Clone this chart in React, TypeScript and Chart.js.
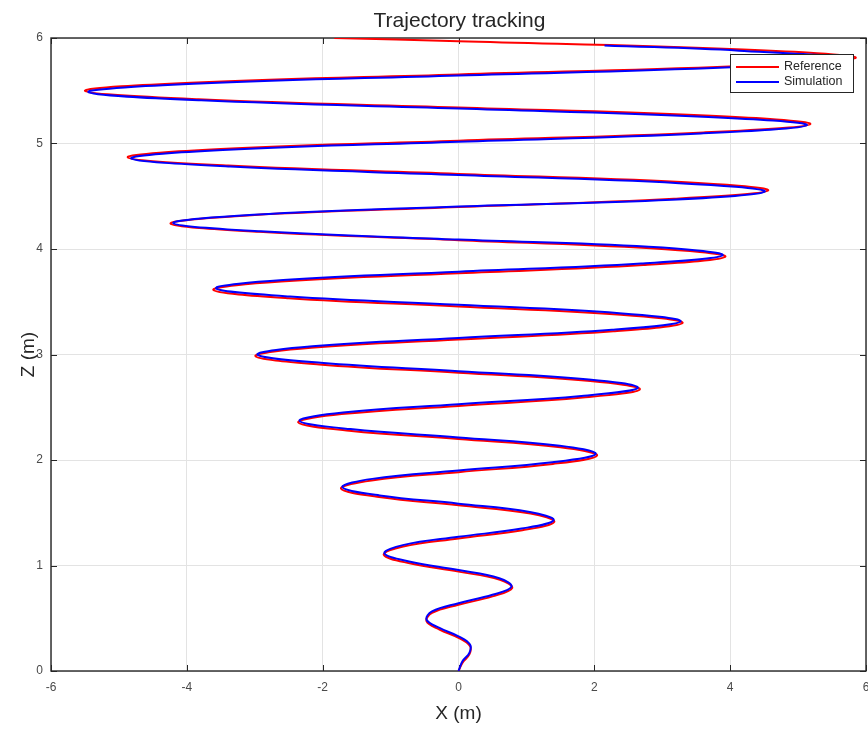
import React, { useEffect, useRef } from "react";
import { Chart, registerables } from "chart.js";

Chart.register(...registerables);

// Reference trajectory (red), bottom to top
const refX = [
  0, 0.06, 0.16, 0.17, 0, -0.28, -0.47, -0.39, 0, 0.5, 0.79, 0.61, 0, -0.72, -1.1, -0.83,
  0, 0.94, 1.41, 1.06, 0, -1.17, -1.73, -1.28, 0, 1.39, 2.04, 1.5, 0, -1.61, -2.36, -1.72,
  0, 1.83, 2.67, 1.94, 0, -2.05, -2.99, -2.17, 0, 2.28, 3.3, 2.39, 0, -2.5, -3.61, -2.61,
  0, 2.72, 3.93, 2.83, 0, -2.94, -4.24, -3.05, 0, 3.17, 4.56, 3.28, 0, -3.39, -4.87, -3.5,
  0, 3.61, 5.18, 3.72, 0, -3.83, -5.5, -3.94, 0, 4.07, 5.85, 4.19, 0, -1.83,
];
const refZ = [
  0, 0.079, 0.157, 0.236, 0.314, 0.393, 0.471, 0.55, 0.628, 0.707, 0.785, 0.864, 0.942, 1.021, 1.1, 1.178,
  1.257, 1.335, 1.414, 1.492, 1.571, 1.649, 1.728, 1.806, 1.885, 1.963, 2.042, 2.121, 2.199, 2.278, 2.356, 2.435,
  2.513, 2.592, 2.67, 2.749, 2.827, 2.906, 2.985, 3.063, 3.142, 3.22, 3.299, 3.377, 3.456, 3.534, 3.613, 3.691,
  3.77, 3.848, 3.927, 4.006, 4.084, 4.163, 4.241, 4.32, 4.398, 4.477, 4.555, 4.634, 4.712, 4.791, 4.869, 4.948,
  5.027, 5.105, 5.184, 5.262, 5.341, 5.419, 5.498, 5.576, 5.655, 5.733, 5.812, 5.89, 5.969, 6.0,
];

// Simulated trajectory (blue), bottom to top (starts at the top)
const simX = [
  0, 0.06, 0.16, 0.17, 0, -0.28, -0.47, -0.39, 0, 0.5, 0.78, 0.6, 0, -0.71, -1.09, -0.82,
  0, 0.93, 1.4, 1.05, 0, -1.16, -1.71, -1.27, 0, 1.38, 2.02, 1.49, 0, -1.59, -2.34, -1.7,
  0, 1.81, 2.64, 1.92, 0, -2.03, -2.96, -2.15, 0, 2.26, 3.27, 2.37, 0, -2.48, -3.57, -2.58,
  0, 2.69, 3.89, 2.8, 0, -2.91, -4.2, -3.02, 0, 3.14, 4.51, 3.25, 0, -3.36, -4.82, -3.47,
  0, 3.57, 5.13, 3.68, 0, -3.79, -5.45, -3.9, 0, 4.01, 5.77, 4.13, 2.15,
];
const simZ = [
  0, 0.094, 0.172, 0.251, 0.329, 0.408, 0.486, 0.565, 0.643, 0.722, 0.8, 0.879, 0.957, 1.036, 1.115, 1.193,
  1.272, 1.35, 1.429, 1.507, 1.586, 1.664, 1.743, 1.821, 1.9, 1.978, 2.057, 2.136, 2.214, 2.293, 2.371, 2.45,
  2.528, 2.607, 2.685, 2.764, 2.842, 2.921, 3.0, 3.078, 3.157, 3.235, 3.314, 3.392, 3.471, 3.549, 3.628, 3.706,
  3.785, 3.863, 3.942, 4.021, 4.089, 4.168, 4.246, 4.325, 4.403, 4.467, 4.545, 4.624, 4.702, 4.781, 4.859, 4.938,
  5.017, 5.095, 5.174, 5.252, 5.331, 5.409, 5.488, 5.566, 5.645, 5.723, 5.802, 5.88, 5.93,
];

const seriesLabels = ["Reference", "Simulation"];
const seriesColors = ["#ff0000", "#0000ff"];
const chartTitle = "Trajectory tracking";
const xLabel = "X (m)";
const yLabel = "Z (m)";
const xRange = [-6, 6];
const yRange = [0, 6];
const xStep = 2;
const yStep = 1;

const FONT = "'Liberation Sans', Arial, Helvetica, sans-serif";
const INK = "#262626";

export default function App() {
  const canvasRef = useRef<HTMLCanvasElement>(null);

  useEffect(() => {
    const canvas = canvasRef.current;
    if (!canvas) return;
    const toPts = (xs: number[], zs: number[]) => xs.map((x, i) => ({ x, y: zs[i] }));

    const framePlugin = {
      id: "frame",
      beforeDatasetsDraw(chart: any) {
        const { ctx, chartArea: a, scales } = chart;
        const tl = 6;
        ctx.save();
        ctx.strokeStyle = INK;
        ctx.lineWidth = 1;
        ctx.beginPath();
        scales.x.ticks.forEach((t: any) => {
          const px = Math.round(scales.x.getPixelForValue(t.value)) + 0.5;
          ctx.moveTo(px, a.bottom);
          ctx.lineTo(px, a.bottom - tl);
          ctx.moveTo(px, a.top);
          ctx.lineTo(px, a.top + tl);
        });
        scales.y.ticks.forEach((t: any) => {
          const py = Math.round(scales.y.getPixelForValue(t.value)) + 0.5;
          ctx.moveTo(a.left, py);
          ctx.lineTo(a.left + tl, py);
          ctx.moveTo(a.right, py);
          ctx.lineTo(a.right - tl, py);
        });
        ctx.stroke();
        ctx.lineWidth = 1.4;
        ctx.strokeRect(a.left, a.top, a.right - a.left, a.bottom - a.top);
        ctx.restore();
      },
      afterDatasetsDraw(chart: any) {
        const { ctx } = chart;
        const bx = 730.5, by = 54.5, bw = 123, bh = 38;
        ctx.save();
        ctx.fillStyle = "#ffffff";
        ctx.fillRect(bx, by, bw, bh);
        ctx.strokeStyle = INK;
        ctx.lineWidth = 1;
        ctx.strokeRect(bx, by, bw, bh);
        chart.data.datasets.forEach((ds: any, i: number) => {
          const y = 67 + i * 15;
          ctx.strokeStyle = ds.borderColor;
          ctx.lineWidth = 2;
          ctx.beginPath();
          ctx.moveTo(736, y);
          ctx.lineTo(779, y);
          ctx.stroke();
          ctx.fillStyle = INK;
          ctx.font = `12.5px ${FONT}`;
          ctx.textAlign = "left";
          ctx.textBaseline = "middle";
          ctx.fillText(ds.label, 784, y);
        });
        ctx.restore();
      },
      afterDraw(chart: any) {
        const { ctx, chartArea: a } = chart;
        ctx.save();
        ctx.fillStyle = INK;
        ctx.font = `21px ${FONT}`;
        ctx.textAlign = "center";
        ctx.textBaseline = "middle";
        ctx.fillText(chartTitle, (a.left + a.right) / 2 + 1, 21);
        ctx.restore();
      },
    };

    const chart = new Chart(canvas, {
      type: "scatter",
      data: {
        datasets: [
          {
            label: seriesLabels[0],
            data: toPts(refX, refZ),
            borderColor: seriesColors[0],
            backgroundColor: seriesColors[0],
            borderWidth: 2,
            showLine: true,
            pointRadius: 0,
            tension: 0.4,
            order: 2,
          },
          {
            label: seriesLabels[1],
            data: toPts(simX, simZ),
            borderColor: seriesColors[1],
            backgroundColor: seriesColors[1],
            borderWidth: 2,
            showLine: true,
            pointRadius: 0,
            tension: 0.4,
            order: 1,
          },
        ],
      },
      options: {
        responsive: false,
        animation: false,
        devicePixelRatio: 1,
        layout: { padding: { top: 38, right: 2, left: 0, bottom: 0 } },
        plugins: { legend: { display: false }, tooltip: { enabled: false }, title: { display: false } },
        scales: {
          x: {
            type: "linear",
            min: xRange[0],
            max: xRange[1],
            ticks: { stepSize: xStep, font: { family: FONT, size: 12 }, color: "#4a4a4a", padding: 9, maxRotation: 0 },
            grid: { color: "#e3e3e3", drawTicks: false, lineWidth: 1 },
            border: { display: false },
            title: { display: true, text: xLabel, font: { family: FONT, size: 19 }, color: INK, padding: { top: 0, bottom: 4 } },
            afterFit: (s: any) => {
              s.height = 58;
              s.paddingLeft = 0;
              s.paddingRight = 0;
            },
          },
          y: {
            type: "linear",
            min: yRange[0],
            max: yRange[1],
            ticks: { stepSize: yStep, font: { family: FONT, size: 12 }, color: "#4a4a4a", padding: 8 },
            grid: { color: "#e3e3e3", drawTicks: false, lineWidth: 1 },
            border: { display: false },
            title: { display: true, text: yLabel, font: { family: FONT, size: 19 }, color: INK, padding: { top: 17, bottom: 0 } },
            afterFit: (s: any) => {
              s.width = 51;
              s.paddingTop = 0;
              s.paddingBottom = 0;
            },
          },
        },
      },
      plugins: [framePlugin],
    } as any);

    return () => chart.destroy();
  }, []);

  return (
    <div style={{ position: "fixed", left: 0, top: 0, width: 868, height: 729, background: "#fff" }}>
      <canvas ref={canvasRef} width={868} height={729} style={{ display: "block", width: 868, height: 729 }} />
    </div>
  );
}
